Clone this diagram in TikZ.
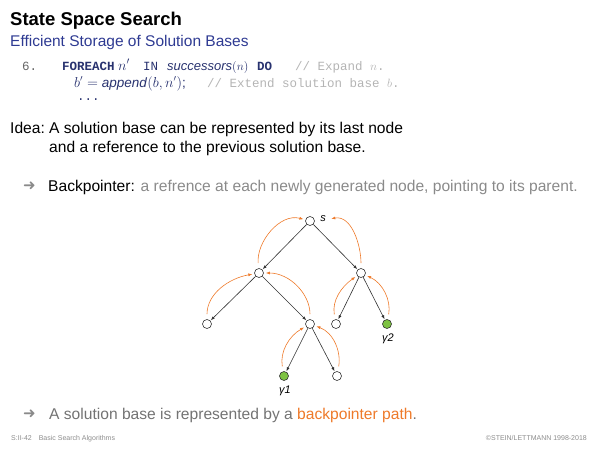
\documentclass[tikz,border=0pt]{standalone}
\usepackage{fontspec}
\setmainfont{Liberation Sans}
\setmonofont{Liberation Mono}
\newfontfamily\symfont{DejaVu Sans}
\usetikzlibrary{arrows.meta}
\definecolor{titleblue}{HTML}{2E3A92}
\definecolor{keyblue}{HTML}{28326F}
\definecolor{commentgray}{HTML}{B4B4B4}
\definecolor{textgray}{HTML}{8A8A8A}
\definecolor{bporange}{HTML}{EE7A2A}
\definecolor{goalgreen}{HTML}{7DC242}
\newcommand{\fsz}[1]{\fontsize{#1}{#1}\selectfont}

\begin{document}
\begin{tikzpicture}[x=1pt,y=-1pt,
  txt/.style={anchor=base west,inner sep=0pt},
  code/.style={txt,text=keyblue},
  state/.style={circle,draw=black!80,fill=white,minimum size=9pt,inner sep=0pt,line width=0.6pt},
  goal/.style={state,fill=goalgreen},
  edge/.style={draw=black!80,line width=0.6pt,-{Latex[length=4pt,width=3pt]},shorten >=0.5pt},
  back/.style={draw=bporange,line width=0.6pt,-{Latex[length=4pt,width=3pt]},shorten <=5pt,shorten >=2pt}]
  \useasboundingbox (0,0) rectangle (600,450);
  % heading
  \node[txt] (title) at (10,25) {\fsz{18.5}\bfseries State Space Search};
  \node[txt,text=titleblue] (subtitle) at (10,46) {\fsz{15.5}Efficient Storage of Solution Bases};
  % algorithm lines
  \node[txt,text=black!60] (num) at (22,70) {\fsz{12.5}\ttfamily 6.};
  \node[code] (kw1) at (62,70) {\fsz{12.5}\ttfamily\bfseries FOREACH};
  \node[code] (var1) at (118,70) {\fsz{14}$n'$};
  \node[code] (kw2) at (143,70) {\fsz{12.5}\ttfamily IN};
  \node[code] (fun1) at (167,70) {\fsz{13}\textit{successors}$(n)$};
  \node[code] (kw3) at (257,70) {\fsz{12.5}\ttfamily\bfseries DO};
  \node[txt,text=commentgray] (rem1) at (295,70) {\fsz{12.5}\texttt{// Expand $n$.}};
  \node[code] (line2) at (74,87) {\fsz{13.5}$b' =$ \textit{append}$(b,n')$;};
  \node[txt,text=commentgray] (rem2) at (207,87) {\fsz{12.5}\texttt{// Extend solution base $b$.}};
  \node[code] (line3) at (77,100) {\fsz{12.5}\texttt{...}};
  % idea
  \node[txt] (idea) at (10,133) {\fsz{15.6}Idea:};
  \node[txt] (idea1) at (49,133) {\fsz{15.6}A solution base can be represented by its last node};
  \node[txt] (idea2) at (49,152) {\fsz{15.6}and a reference to the previous solution base.};
  \node[txt,text=textgray] (arr1) at (23,190) {\fsz{15}\symfont ➜};
  \node[txt,text=textgray] (bp) at (48,191) {\fsz{15.6}\textcolor{black}{Backpointer:} a refrence at each newly generated node, pointing to its parent.};
  % tree
  \node[state] (s) at (310,221) {};
  \node[state] (n1) at (259,273) {};
  \node[state] (n2) at (361,273) {};
  \node[state] (n11) at (207,324) {};
  \node[state] (n12) at (310,324) {};
  \node[state] (n21) at (336,324) {};
  \node[goal] (n22) at (387,324) {};
  \node[goal] (n121) at (284,376) {};
  \node[state] (n122) at (337,376) {};
  \node (slab) at (323,219) {\fsz{11}\textit{s}};
  \node (g2) at (388,339) {\fsz{11}\textit{γ2}};
  \node (g1) at (285,391) {\fsz{11}\textit{γ1}};
  \draw[edge] (s) -- (n1);
  \draw[edge] (s) -- (n2);
  \draw[edge] (n1) -- (n11);
  \draw[edge] (n1) -- (n12);
  \draw[edge] (n2) -- (n21);
  \draw[edge] (n2) -- (n22);
  \draw[edge] (n12) -- (n121);
  \draw[edge] (n12) -- (n122);
  % backpointers
  \draw[back] (n1) to[out=95,in=165] (s);
  \draw[back] (n2) to[out=90,in=10] (slab.east);
  \draw[back] (n11) to[out=90,in=190] (n1);
  \draw[back] (n12) to[out=90,in=0] (n1);
  \draw[back] (n21) to[out=100,in=215] (n2);
  \draw[back] (n22) to[out=80,in=-25] (n2);
  \draw[back] (n121) to[out=100,in=210] (n12);
  \draw[back] (n122) to[out=80,in=-20] (n12);
  % closing remark
  \node[txt,text=textgray] (arr2) at (23,418) {\fsz{15}\symfont ➜};
  \node[txt,text=black!55] (summary) at (49,419) {\fsz{15.6}A solution base is represented by a \textcolor{bporange}{backpointer path}.};
  % footer
  \node[txt,text=black!45] (foot1) at (11,440) {\fsz{7}S:II-42\quad Basic Search Algorithms};
  \node[anchor=base east,inner sep=0pt,text=black!45] (foot2) at (587,440) {\fsz{7}©STEIN/LETTMANN 1998-2018};
\end{tikzpicture}
\end{document}
